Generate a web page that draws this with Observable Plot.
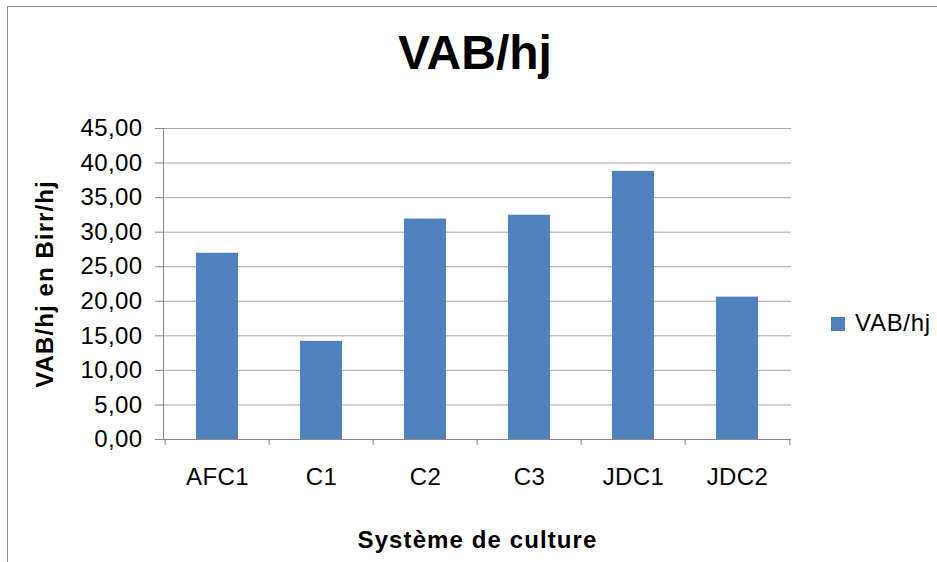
<!DOCTYPE html>
<html><head><meta charset="utf-8">
<script src="https://cdn.jsdelivr.net/npm/d3@7"></script>
<script src="https://cdn.jsdelivr.net/npm/@observablehq/plot@0.6"></script>
<style>
body{margin:0;background:#fff;font-family:"Liberation Sans",Arial,sans-serif;}
#wrap{position:relative;width:937px;height:562px;overflow:hidden;background:#fff;}
#frame{position:absolute;left:7px;top:6px;width:960px;height:600px;border:1px solid #8c8c8c;box-sizing:border-box;}
#title{position:absolute;left:0;top:29px;width:950px;text-align:center;font-weight:bold;font-size:48px;line-height:48px;color:#000;}
#chart{position:absolute;left:0;top:0;}
#legsw{position:absolute;left:831px;top:317px;width:14px;height:14px;background:#4f81bd;}
#legtx{position:absolute;left:855px;top:311px;font-size:24px;line-height:24px;letter-spacing:0.7px;color:#000;}
.bigtitle{letter-spacing:1.1px;}
</style></head>
<body>
<div id="wrap">
  <div id="frame"></div>
  <div id="title">VAB/hj</div>
  <div id="chart"></div>
  <div id="legsw"></div>
  <div id="legtx">VAB/hj</div>
</div>
<script>
const categories = ["AFC1", "C1", "C2", "C3", "JDC1", "JDC2"];
const values = [26.95, 14.2, 31.9, 32.45, 38.8, 20.6];
const yTicks = [0, 5, 10, 15, 20, 25, 30, 35, 40, 45];
const xTitle = "Système de culture";
const yTitle = "VAB/hj en Birr/hj";

const data = categories.map((c, i) => ({cat: c, v: values[i]}));
const W = 937, H = 562, mL = 163, mR = 146, mT = 128, mB = 123;
const step = (W - mL - mR) / categories.length;
const axisGray = "#868686";

const chart = Plot.plot({
  width: W, height: H,
  marginLeft: mL, marginRight: mR, marginTop: mT, marginBottom: mB,
  style: {fontFamily: "'Liberation Sans', Arial, sans-serif", fontSize: "24px", color: "#000", background: "transparent", letterSpacing: "0.4px"},
  x: {domain: categories, paddingInner: 0.6, paddingOuter: 0.3, label: null},
  y: {domain: [0, 45], label: null},
  marks: [
    Plot.gridY(yTicks, {stroke: "#a6a6a6", strokeOpacity: 1}),
    Plot.barY(data, {x: "cat", y: "v", fill: "#4f81bd"}),
    Plot.ruleY([0], {stroke: axisGray}),
    Plot.frame({anchor: "left", stroke: axisGray}),
    Plot.ruleX(categories, {x: d => d, dx: -step / 2, y1: 0, y2: 0, insetBottom: -6, stroke: axisGray}),
    Plot.ruleX([categories[categories.length - 1]], {x: d => d, dx: step / 2, y1: 0, y2: 0, insetBottom: -6, stroke: axisGray}),
    Plot.axisY(yTicks, {tickSize: 8, tickPadding: 13, stroke: axisGray, fill: "#000", fontSize: 24,
      tickFormat: d => d.toFixed(2).replace(".", ","), label: null}),
    Plot.axisX({tickSize: 0, tickPadding: 28, fill: "#000", fontSize: 24, label: null}),
    Plot.text([xTitle], {frameAnchor: "bottom", dy: 101, lineAnchor: "middle", textAnchor: "middle", fontWeight: "bold", fontSize: 24, fill: "#000"}),
    Plot.text([yTitle], {frameAnchor: "left", dx: -118, rotate: -90, lineAnchor: "middle", textAnchor: "middle", fontWeight: "bold", fontSize: 24, fill: "#000"})
  ]
});
d3.select(chart).selectAll("text").filter(function() {
  const t = this.textContent;
  return t === xTitle || t === yTitle;
}).attr("class", "bigtitle");
document.getElementById("chart").appendChild(chart);
</script>
</body></html>
